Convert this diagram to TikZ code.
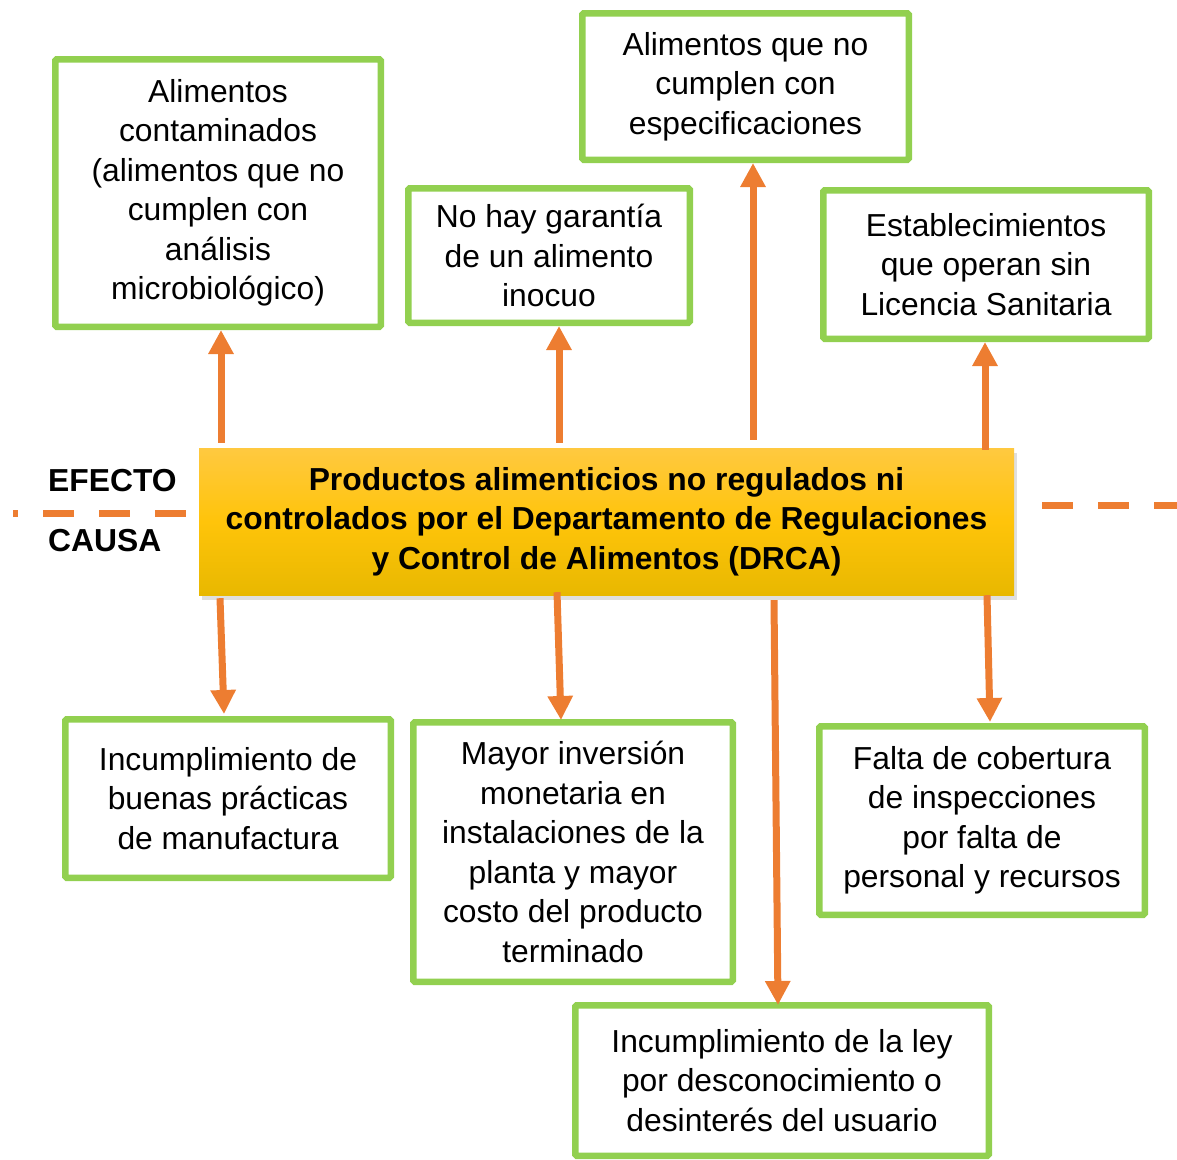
\documentclass[tikz,border=0pt]{standalone}
\usepackage{fontspec}
\setmainfont{Liberation Sans}
\usepackage{tikz}
\usetikzlibrary{arrows.meta,calc,shadows}
\definecolor{boxgreen}{RGB}{146,208,80}
\definecolor{arrorange}{RGB}{237,125,49}

\begin{document}
\begin{tikzpicture}[x=1pt,y=-1pt,>={Triangle[width=24pt,length=24pt]},
  txt/.style={font=\fontsize{31.8}{39.5}\selectfont},
  bold/.style={font=\fontsize{31.8}{39.5}\selectfont\bfseries},
  box/.style={txt,draw=boxgreen,line width=6.5pt,fill=white,align=center,inner sep=0pt,rounded corners=1.5pt},
  arr/.style={->,draw=arrorange,line width=7pt},
  sep/.style={draw=arrorange,line width=7pt,dash pattern=on 31pt off 25pt}]
\useasboundingbox (0,0) rectangle (1177,1159);

\draw[sep,dash phase=26pt] (13,513) coordinate (l0) -- (186,513) coordinate (l1);
\draw[sep] (1042,505) coordinate (r0) -- (1177,505) coordinate (r1);

\node[bold,anchor=west,inner sep=0pt] (efecto) at (48,481) {EFECTO};
\node[bold,anchor=west,inner sep=0pt] (causa) at (48,541) {CAUSA};

\node[bold,align=center,minimum width=815pt,minimum height=147pt,inner sep=0pt,
  top color={rgb,255:red,255;green,201;blue,64},bottom color={rgb,255:red,232;green,184;blue,0},middle color={rgb,255:red,255;green,196;blue,10},
  drop shadow={shadow xshift=3pt,shadow yshift=-5pt,opacity=0.25}] (center) at (606.5,521.5)
  {Productos alimenticios no regulados ni\\controlados por el Departamento de Regulaciones\\y Control de Alimentos (DRCA)};

\node[box,minimum width=325.5pt,minimum height=267.5pt] (contam) at (218,193)
  {Alimentos\\contaminados\\(alimentos que no\\cumplen con\\análisis\\microbiológico)};
\node[box,minimum width=281.5pt,minimum height=134.5pt] (garantia) at (549,255.5)
  {No hay garantía\\de un alimento\\inocuo};
\node[box,minimum width=326.5pt,minimum height=146.5pt] (especif) at (745.5,86.5)
  {Alimentos que no\\cumplen con\\especificaciones};
\node[box,minimum width=325.5pt,minimum height=148.5pt] (licencia) at (986,264.5)
  {Establecimientos\\que operan sin\\Licencia Sanitaria};
\node[box,minimum width=325.5pt,minimum height=158.5pt] (practicas) at (228,798.5)
  {Incumplimiento de\\buenas prácticas\\de manufactura};
\node[box,minimum width=319.5pt,minimum height=259.5pt] (inversion) at (573,852)
  {Mayor inversión\\monetaria en\\instalaciones de la\\planta y mayor\\costo del producto\\terminado};
\node[box,minimum width=325.5pt,minimum height=188.5pt] (cobertura) at (982,820.5)
  {Falta de cobertura\\de inspecciones\\por falta de\\personal y recursos};
\node[box,minimum width=413.5pt,minimum height=150.5pt] (ley) at (782,1080.5)
  {Incumplimiento de la ley\\por desconocimiento o\\desinterés del usuario};

\draw[arr] ($(center.north -| contam.south)+(3,-5)$) -- ($(contam.south)+(3,0)$);
\draw[arr] ($(center.north -| garantia.south)+(10,-5)$) -- ($(garantia.south)+(10,0)$);
\draw[arr] ($(center.north -| especif.south)+(7.5,-8)$) -- ($(especif.south)+(7.5,0)$);
\draw[arr] ($(center.north -| licencia.south)+(-1,2)$) -- ($(licencia.south)+(-1,0)$);

\draw[arr] ($(center.south -| practicas.north)+(-8,3)$) -- ($(practicas.north)+(-4,-2)$);
\draw[arr] ($(center.south -| inversion.north)+(-16,-3)$) -- ($(inversion.north)+(-12,1)$);
\draw[arr] ($(center.south -| ley.north)+(-8,5)$) -- ($(ley.north)+(-4,3)$);
\draw[arr] ($(center.south -| cobertura.north)+(5,0)$) -- ($(cobertura.north)+(8,-1)$);
\end{tikzpicture}
\end{document}
